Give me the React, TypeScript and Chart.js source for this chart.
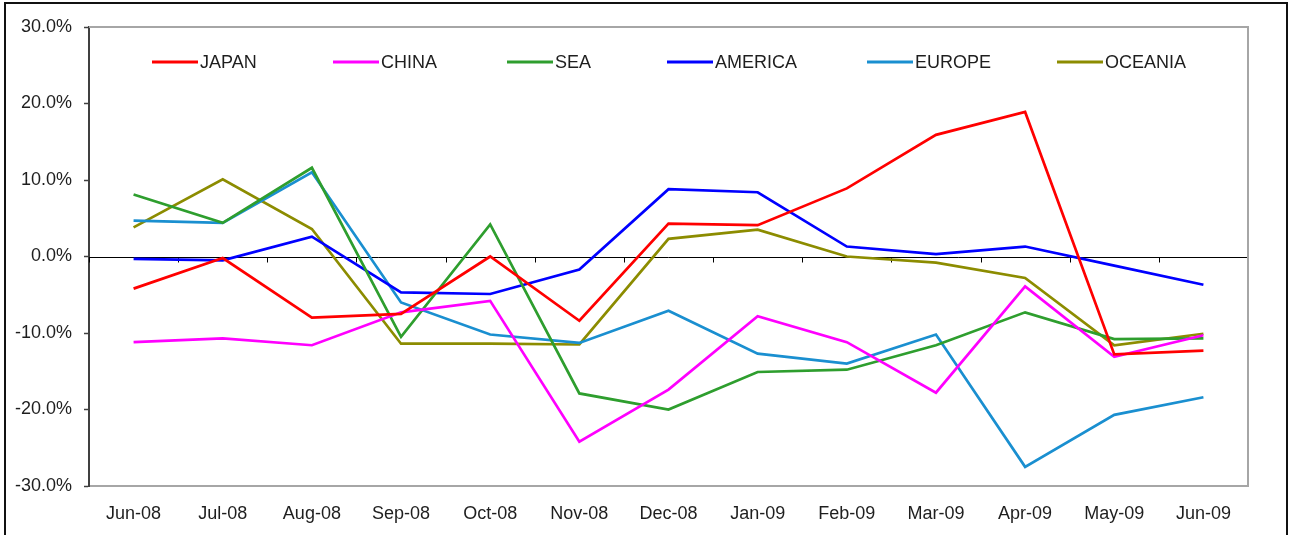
import React, { useEffect, useRef } from 'react';
import { Chart, registerables } from 'chart.js';

Chart.register(...registerables);

const categories = ['Jun-08', 'Jul-08', 'Aug-08', 'Sep-08', 'Oct-08', 'Nov-08', 'Dec-08', 'Jan-09', 'Feb-09', 'Mar-09', 'Apr-09', 'May-09', 'Jun-09'];
const japan = [-4.2, -0.2, -8.0, -7.5, 0.0, -8.4, 4.3, 4.1, 8.9, 15.9, 18.9, -12.8, -12.3];
const china = [-11.2, -10.7, -11.6, -7.3, -5.8, -24.2, -17.4, -7.8, -11.2, -17.8, -3.9, -13.1, -10.3];
const sea = [8.1, 4.4, 11.6, -10.5, 4.2, -17.9, -20.0, -15.1, -14.8, -11.6, -7.3, -10.8, -10.7];
const america = [-0.3, -0.5, 2.6, -4.7, -4.9, -1.7, 8.8, 8.4, 1.3, 0.3, 1.3, -1.2, -3.7];
const europe = [4.7, 4.4, 11.0, -6.0, -10.2, -11.3, -7.1, -12.7, -14.0, -10.2, -27.5, -20.7, -18.4];
const oceania = [3.8, 10.1, 3.6, -11.4, -11.4, -11.5, 2.3, 3.5, 0.0, -0.8, -2.8, -11.6, -10.1];
const seriesNames = ['JAPAN', 'CHINA', 'SEA', 'AMERICA', 'EUROPE', 'OCEANIA'];
const seriesColors = ['#ff0000', '#ff00ff', '#2e9e2e', '#0000ff', '#1a8fd0', '#8c8c00'];
const yTicks = [-30, -20, -10, 0, 10, 20, 30];

const FONT = '"Liberation Sans", Arial, sans-serif';
const TEXT = '#1e1e1e';
const FONT_SIZE = 18;
// legend line start x offsets (px from chart area left)
const legendOffsets = [63, 244, 418, 578, 778, 968];

const decorPlugin = {
  id: 'decor',
  beforeDatasetsDraw(chart: any) {
    const { ctx, chartArea } = chart;
    const y = chart.scales.y;
    const y0 = Math.round(y.getPixelForValue(0)) + 0.5;
    ctx.save();
    ctx.strokeStyle = '#000';
    ctx.lineWidth = 1;
    ctx.beginPath();
    ctx.moveTo(chartArea.left, y0);
    ctx.lineTo(chartArea.right, y0);
    const n = categories.length;
    const w = (chartArea.right - chartArea.left) / n;
    for (let i = 0; i <= n; i++) {
      const x = Math.round(chartArea.left + i * w) + 0.5;
      ctx.moveTo(x, y0);
      ctx.lineTo(x, y0 + 5);
    }
    ctx.stroke();
    // top and right gray border
    ctx.strokeStyle = '#a6a6a6';
    ctx.lineWidth = 2;
    ctx.beginPath();
    ctx.moveTo(chartArea.left, chartArea.top);
    ctx.lineTo(chartArea.right, chartArea.top);
    ctx.lineTo(chartArea.right, chartArea.bottom);
    ctx.stroke();
    ctx.restore();
  },
  afterDraw(chart: any) {
    const { ctx, chartArea } = chart;
    ctx.save();
    // legend
    const ly = 62;
    ctx.font = FONT_SIZE + 'px ' + FONT;
    ctx.textBaseline = 'middle';
    ctx.textAlign = 'left';
    chart.data.datasets.forEach((ds: any, i: number) => {
      const x = chartArea.left + legendOffsets[i];
      ctx.strokeStyle = ds.borderColor;
      ctx.lineWidth = 3;
      ctx.beginPath();
      ctx.moveTo(x, ly);
      ctx.lineTo(x + 46, ly);
      ctx.stroke();
      ctx.fillStyle = TEXT;
      ctx.fillText(ds.label, x + 48, ly + 1);
    });
    // outer frame
    ctx.strokeStyle = '#111';
    ctx.lineWidth = 2;
    ctx.strokeRect(5, 3, 1282, 600);
    ctx.restore();
  },
};

export default function App() {
  const ref = useRef<HTMLCanvasElement | null>(null);
  useEffect(() => {
    document.body.style.margin = '0';
    const datasets = [japan, china, sea, america, europe, oceania].map((d, i) => ({
      label: seriesNames[i],
      data: d,
      borderColor: seriesColors[i],
      backgroundColor: seriesColors[i],
      borderWidth: 2.7,
      pointRadius: 0,
      tension: 0,
      fill: false,
    }));
    const chart = new Chart(ref.current as HTMLCanvasElement, {
      type: 'line',
      data: { labels: categories, datasets },
      options: {
        animation: false,
        responsive: false,
        maintainAspectRatio: false,
        layout: { padding: { top: 27, right: 41, left: 0, bottom: 0 } },
        plugins: { legend: { display: false }, tooltip: { enabled: false } },
        scales: {
          x: {
            offset: true,
            grid: { display: true, drawOnChartArea: false, drawTicks: false },
            border: { display: true, color: '#a6a6a6', width: 2 },
            ticks: { color: TEXT, font: { family: FONT, size: FONT_SIZE }, padding: 17, maxRotation: 0, autoSkip: false },
            afterFit: (s: any) => { s.height = 49; },
          },
          y: {
            min: -30,
            max: 30,
            afterBuildTicks: (s: any) => { s.ticks = yTicks.map((v) => ({ value: v })); },
            grid: { display: true, drawOnChartArea: false, drawTicks: true, tickLength: 5, tickColor: '#404040', tickWidth: 1.5 },
            border: { display: true, color: '#404040', width: 2 },
            ticks: {
              color: TEXT,
              font: { family: FONT, size: FONT_SIZE },
              padding: 12,
              callback: (v: any) => Number(v).toFixed(1) + '%',
            },
            afterFit: (s: any) => { s.width = 89; },
          },
        },
      },
      plugins: [decorPlugin],
    });
    return () => chart.destroy();
  }, []);
  return (
    <div style={{ position: 'absolute', left: 0, top: 0, width: 1289, height: 535, overflow: 'hidden', background: '#fff' }}>
      <canvas ref={ref} width={1289} height={535} style={{ display: 'block', width: 1289, height: 535 }} />
    </div>
  );
}
